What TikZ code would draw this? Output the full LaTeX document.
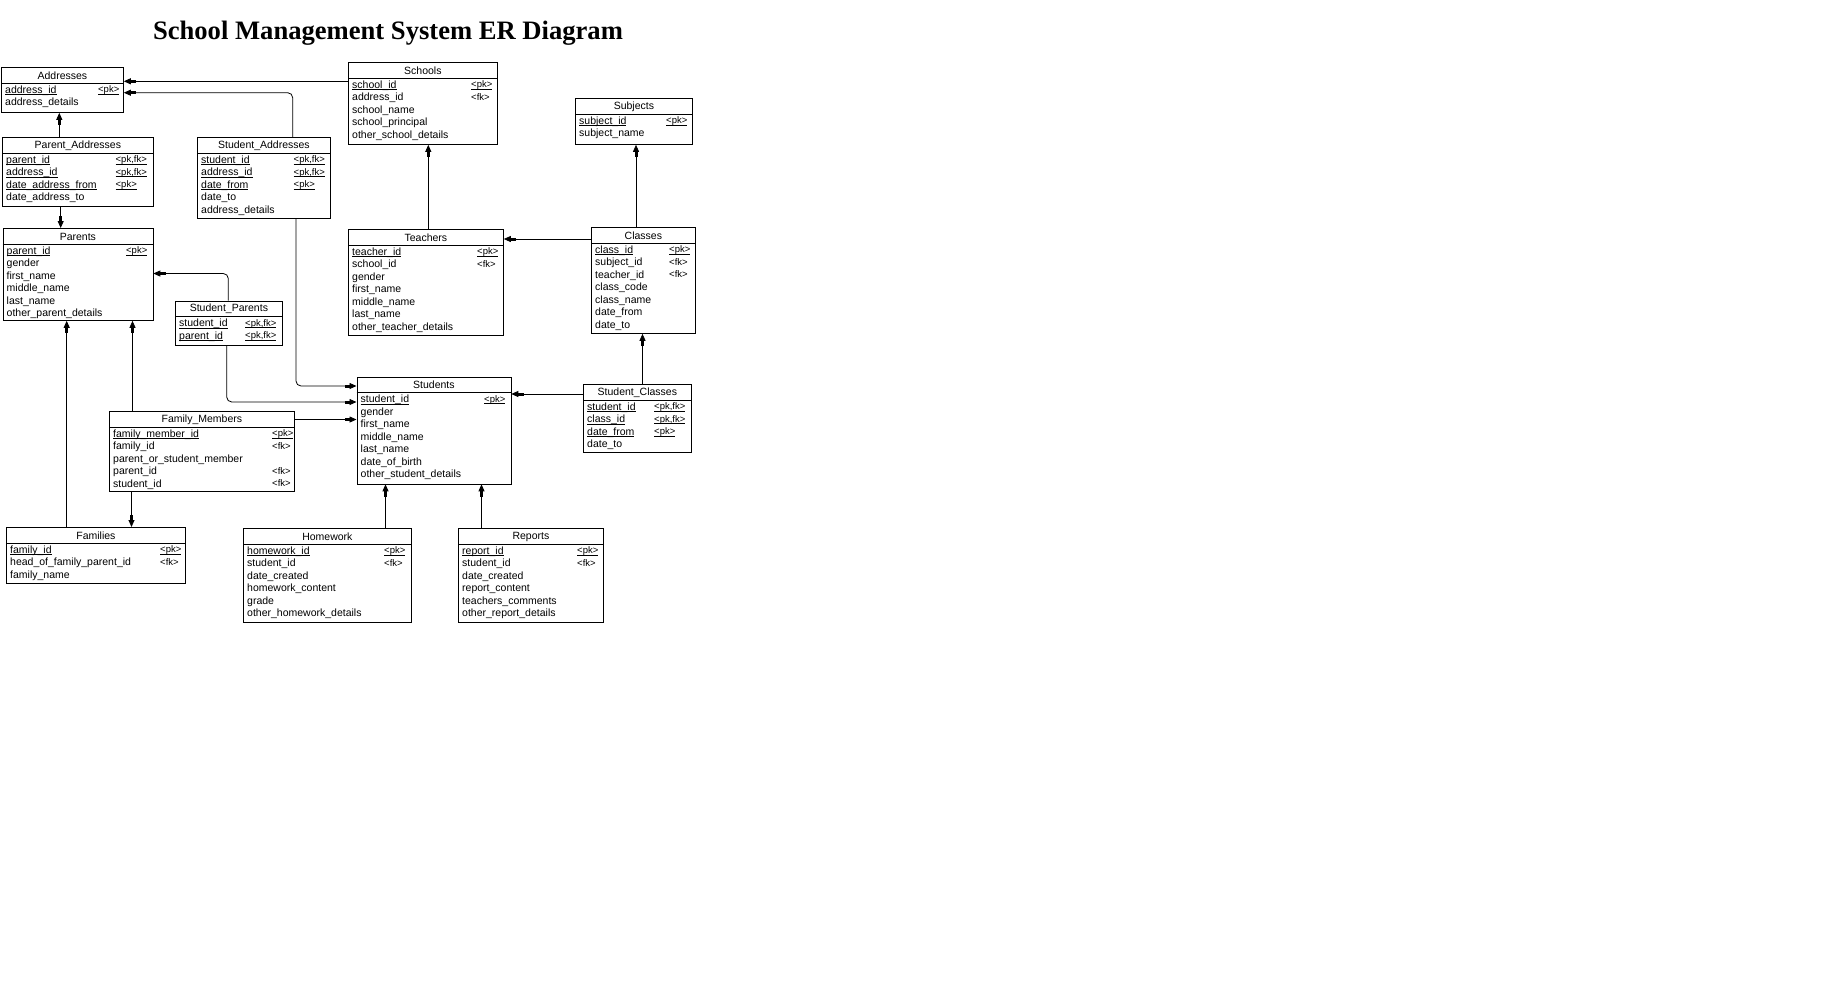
\documentclass[tikz,border=0pt]{standalone}
\usepackage{fontspec}
\setmainfont{Liberation Sans}
\newfontfamily\titlefont{Liberation Serif}
\usetikzlibrary{arrows.meta}
\newcommand\pkline[1]{\underline{\smash{#1}}}
\begin{document}
\begin{tikzpicture}[x=1pt,y=-1pt,
    entity/.style={draw,line width=0.8pt,anchor=north west,inner sep=0pt},
    ehead/.style={inner sep=0pt,font=\fontsize{10.5}{12}\selectfont},
    field/.style={anchor=west,inner sep=0pt,text height=7.5pt,text depth=2.5pt,font=\fontsize{10.5}{12}\selectfont},
    keytext/.style={anchor=west,inner sep=0pt,text height=7pt,text depth=2.5pt,font=\fontsize{9.5}{11}\selectfont},
    fk/.style={draw,line width=0.8pt,rounded corners=5pt,-{Rectangle[length=5pt,width=2.6pt]Triangle[length=7pt,width=6pt]}}]
    \useasboundingbox (0,0) rectangle (1848,994);
    \fill[white] (0,0) rectangle (1848,994);
    % title
    \node[anchor=base,font=\titlefont\bfseries\fontsize{26.6}{30}\selectfont] (title) at (388,39) {School Management System ER Diagram};
    % Addresses
    \node[entity,minimum width=122pt,minimum height=45pt] (addresses) at (1,67) {};
    \draw (addresses.north west) ++(0,16) -- ++(122,0);
    \node[ehead] (addresses-t) at ([yshift=-8.5pt]addresses.north) {Addresses};
    \foreach \f [count=\i from 0] in {{\pkline{address\_id}},address\_details}
        \node[field] (addresses-f\i) at (5,90.5+12.5*\i) {\f};
    \node[keytext] (addresses-k0) at (98,90.5) {\pkline{<pk>}};
    % Schools
    \node[entity,minimum width=149pt,minimum height=82pt] (schools) at (348,62) {};
    \draw (schools.north west) ++(0,16) -- ++(149,0);
    \node[ehead] (schools-t) at ([yshift=-8.5pt]schools.north) {Schools};
    \foreach \f [count=\i from 0] in {{\pkline{school\_id}},address\_id,school\_name,school\_principal,other\_school\_details}
        \node[field] (schools-f\i) at (352,85.5+12.5*\i) {\f};
    \foreach \k [count=\i from 0] in {{\pkline{<pk>}},<fk>}
        \node[keytext] (schools-k\i) at (471,85.5+12.5*\i) {\k};
    % Subjects
    \node[entity,minimum width=117pt,minimum height=46pt] (subjects) at (575,98) {};
    \draw (subjects.north west) ++(0,16) -- ++(117,0);
    \node[ehead] (subjects-t) at ([yshift=-8.5pt]subjects.north) {Subjects};
    \foreach \f [count=\i from 0] in {{\pkline{subject\_id}},subject\_name}
        \node[field] (subjects-f\i) at (579,121.5+12.5*\i) {\f};
    \node[keytext] (subjects-k0) at (666,121.5) {\pkline{<pk>}};
    % Parent_Addresses
    \node[entity,minimum width=151pt,minimum height=69pt] (paraddr) at (2,137) {};
    \draw (paraddr.north west) ++(0,16) -- ++(151,0);
    \node[ehead] (paraddr-t) at ([yshift=-8.5pt]paraddr.north) {Parent\_Addresses};
    \foreach \f [count=\i from 0] in {{\pkline{parent\_id}},{\pkline{address\_id}},{\pkline{date\_address\_from}},date\_address\_to}
        \node[field] (paraddr-f\i) at (6,160.5+12.5*\i) {\f};
    \foreach \k [count=\i from 0] in {{\pkline{<pk,fk>}},{\pkline{<pk,fk>}},{\pkline{<pk>}}}
        \node[keytext] (paraddr-k\i) at (115.5,160.5+12.5*\i) {\k};
    % Student_Addresses
    \node[entity,minimum width=133pt,minimum height=81pt] (stuaddr) at (197,137) {};
    \draw (stuaddr.north west) ++(0,16) -- ++(133,0);
    \node[ehead] (stuaddr-t) at ([yshift=-8.5pt]stuaddr.north) {Student\_Addresses};
    \foreach \f [count=\i from 0] in {{\pkline{student\_id}},{\pkline{address\_id}},{\pkline{date\_from}},date\_to,address\_details}
        \node[field] (stuaddr-f\i) at (201,160.5+12.5*\i) {\f};
    \foreach \k [count=\i from 0] in {{\pkline{<pk,fk>}},{\pkline{<pk,fk>}},{\pkline{<pk>}}}
        \node[keytext] (stuaddr-k\i) at (293.5,160.5+12.5*\i) {\k};
    % Parents
    \node[entity,minimum width=150pt,minimum height=92pt] (parents) at (2.5,228) {};
    \draw (parents.north west) ++(0,16) -- ++(150,0);
    \node[ehead] (parents-t) at ([yshift=-8.5pt]parents.north) {Parents};
    \foreach \f [count=\i from 0] in {{\pkline{parent\_id}},gender,first\_name,middle\_name,last\_name,other\_parent\_details}
        \node[field] (parents-f\i) at (6.5,251.5+12.5*\i) {\f};
    \node[keytext] (parents-k0) at (126,251.5) {\pkline{<pk>}};
    % Teachers
    \node[entity,minimum width=155pt,minimum height=106pt] (teachers) at (348,229) {};
    \draw (teachers.north west) ++(0,16) -- ++(155,0);
    \node[ehead] (teachers-t) at ([yshift=-8.5pt]teachers.north) {Teachers};
    \foreach \f [count=\i from 0] in {{\pkline{teacher\_id}},school\_id,gender,first\_name,middle\_name,last\_name,other\_teacher\_details}
        \node[field] (teachers-f\i) at (352,252.5+12.5*\i) {\f};
    \foreach \k [count=\i from 0] in {{\pkline{<pk>}},<fk>}
        \node[keytext] (teachers-k\i) at (477,252.5+12.5*\i) {\k};
    % Classes
    \node[entity,minimum width=104pt,minimum height=106pt] (classes) at (591,227) {};
    \draw (classes.north west) ++(0,16) -- ++(104,0);
    \node[ehead] (classes-t) at ([yshift=-8.5pt]classes.north) {Classes};
    \foreach \f [count=\i from 0] in {{\pkline{class\_id}},subject\_id,teacher\_id,class\_code,class\_name,date\_from,date\_to}
        \node[field] (classes-f\i) at (595,250.5+12.5*\i) {\f};
    \foreach \k [count=\i from 0] in {{\pkline{<pk>}},<fk>,<fk>}
        \node[keytext] (classes-k\i) at (669,250.5+12.5*\i) {\k};
    % Student_Parents
    \node[entity,minimum width=107pt,minimum height=44.5pt] (stupar) at (175,300.5) {};
    \draw (stupar.north west) ++(0,16) -- ++(107,0);
    \node[ehead] (stupar-t) at ([yshift=-8.5pt]stupar.north) {Student\_Parents};
    \foreach \f [count=\i from 0] in {{\pkline{student\_id}},{\pkline{parent\_id}}}
        \node[field] (stupar-f\i) at (179,324+12.5*\i) {\f};
    \foreach \k [count=\i from 0] in {{\pkline{<pk,fk>}},{\pkline{<pk,fk>}}}
        \node[keytext] (stupar-k\i) at (245,324+12.5*\i) {\k};
    % Students
    \node[entity,minimum width=154pt,minimum height=107pt] (students) at (356.5,376.5) {};
    \draw (students.north west) ++(0,16) -- ++(154,0);
    \node[ehead] (students-t) at ([yshift=-8.5pt]students.north) {Students};
    \foreach \f [count=\i from 0] in {{\pkline{student\_id}},gender,first\_name,middle\_name,last\_name,date\_of\_birth,other\_student\_details}
        \node[field] (students-f\i) at (360.5,400+12.5*\i) {\f};
    \node[keytext] (students-k0) at (484,400) {\pkline{<pk>}};
    % Student_Classes
    \node[entity,minimum width=108pt,minimum height=67.5pt] (stucls) at (583,384) {};
    \draw (stucls.north west) ++(0,16) -- ++(108,0);
    \node[ehead] (stucls-t) at ([yshift=-8.5pt]stucls.north) {Student\_Classes};
    \foreach \f [count=\i from 0] in {{\pkline{student\_id}},{\pkline{class\_id}},{\pkline{date\_from}},date\_to}
        \node[field] (stucls-f\i) at (587,407.5+12.5*\i) {\f};
    \foreach \k [count=\i from 0] in {{\pkline{<pk,fk>}},{\pkline{<pk,fk>}},{\pkline{<pk>}}}
        \node[keytext] (stucls-k\i) at (654,407.5+12.5*\i) {\k};
    % Family_Members
    \node[entity,minimum width=185pt,minimum height=80pt] (fammem) at (109,411) {};
    \draw (fammem.north west) ++(0,16) -- ++(185,0);
    \node[ehead] (fammem-t) at ([yshift=-8.5pt]fammem.north) {Family\_Members};
    \foreach \f [count=\i from 0] in {{\pkline{family\_member\_id}},family\_id,parent\_or\_student\_member,parent\_id,student\_id}
        \node[field] (fammem-f\i) at (113,434.5+12.5*\i) {\f};
    \foreach \k [count=\i from 0] in {{\pkline{<pk>}},<fk>,{},<fk>,<fk>}
        \node[keytext] (fammem-k\i) at (272,434.5+12.5*\i) {\k};
    % Families
    \node[entity,minimum width=179pt,minimum height=56pt] (families) at (6,527) {};
    \draw (families.north west) ++(0,16) -- ++(179,0);
    \node[ehead] (families-t) at ([yshift=-8.5pt]families.north) {Families};
    \foreach \f [count=\i from 0] in {{\pkline{family\_id}},head\_of\_family\_parent\_id,family\_name}
        \node[field] (families-f\i) at (10,550.5+12.5*\i) {\f};
    \foreach \k [count=\i from 0] in {{\pkline{<pk>}},<fk>}
        \node[keytext] (families-k\i) at (160,550.5+12.5*\i) {\k};
    % Homework
    \node[entity,minimum width=168pt,minimum height=93.5pt] (homework) at (243,528) {};
    \draw (homework.north west) ++(0,16) -- ++(168,0);
    \node[ehead] (homework-t) at ([yshift=-8.5pt]homework.north) {Homework};
    \foreach \f [count=\i from 0] in {{\pkline{homework\_id}},student\_id,date\_created,homework\_content,grade,other\_homework\_details}
        \node[field] (homework-f\i) at (247,551.5+12.5*\i) {\f};
    \foreach \k [count=\i from 0] in {{\pkline{<pk>}},<fk>}
        \node[keytext] (homework-k\i) at (384,551.5+12.5*\i) {\k};
    % Reports
    \node[entity,minimum width=145pt,minimum height=93.5pt] (reports) at (458,528) {};
    \draw (reports.north west) ++(0,16) -- ++(145,0);
    \node[ehead] (reports-t) at ([yshift=-8.5pt]reports.north) {Reports};
    \foreach \f [count=\i from 0] in {{\pkline{report\_id}},student\_id,date\_created,report\_content,teachers\_comments,other\_report\_details}
        \node[field] (reports-f\i) at (462,551.5+12.5*\i) {\f};
    \foreach \k [count=\i from 0] in {{\pkline{<pk>}},<fk>}
        \node[keytext] (reports-k\i) at (577,551.5+12.5*\i) {\k};
    % references
    \draw[fk] (schools.west |- 0,81.3) -- (addresses.east |- 0,81.3);
    \draw[fk] (stuaddr.north -| 292.7,0) |- (addresses.east |- 0,92.7);
    \draw[fk] (paraddr.north -| 59.3,0) -- (addresses.south -| 59.3,0);
    \draw[fk] (paraddr.south -| 60.7,0) -- (parents.north -| 60.7,0);
    \draw[fk] (stupar.north -| 228.3,0) |- (parents.east |- 0,273.5);
    \draw[fk] (stupar.south -| 226.7,0) |- (students.west |- 0,402);
    \draw[fk] (stuaddr.south -| 296,0) |- (students.west |- 0,386);
    \draw[fk] (fammem.east |- 0,419.5) -- (students.west |- 0,419.5);
    \draw[fk] (fammem.north -| 132.5,0) -- (parents.south -| 132.5,0);
    \draw[fk] (families.north -| 66.7,0) -- (parents.south -| 66.7,0);
    \draw[fk] (fammem.south -| 131.5,0) -- (families.north -| 131.5,0);
    \draw[fk] (teachers.north -| 428.3,0) -- (schools.south -| 428.3,0);
    \draw[fk] (classes.west |- 0,239) -- (teachers.east |- 0,239);
    \draw[fk] (classes.north -| 636,0) -- (subjects.south -| 636,0);
    \draw[fk] (stucls.north -| 642.5,0) -- (classes.south -| 642.5,0);
    \draw[fk] (stucls.west |- 0,394) -- (students.east |- 0,394);
    \draw[fk] (homework.north -| 385.5,0) -- (students.south -| 385.5,0);
    \draw[fk] (reports.north -| 481.5,0) -- (students.south -| 481.5,0);
\end{tikzpicture}
\end{document}
